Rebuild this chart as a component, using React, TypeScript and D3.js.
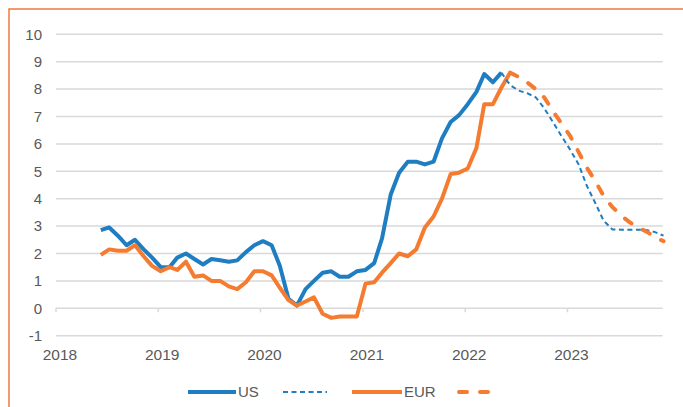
import React from 'react';
import * as d3 from 'd3';

// monthly inflation, % y/y
const usStart = new Date(2018, 5, 10);
const usActual = [
  2.85, 2.95, 2.65, 2.3, 2.5, 2.15, 1.85,
  1.5, 1.5, 1.85, 2.0, 1.8, 1.6, 1.8, 1.75, 1.7, 1.75, 2.05, 2.3,
  2.45, 2.3, 1.55, 0.35, 0.1, 0.7, 1.0, 1.3, 1.35, 1.15, 1.15, 1.35,
  1.4, 1.65, 2.55, 4.15, 4.95, 5.35, 5.35, 5.25, 5.35, 6.2, 6.8, 7.05,
  7.45, 7.9, 8.55, 8.25, 8.6,
];
const usForecastStart = new Date(2022, 4, 10);
const usForecast = [
  8.6, 8.15, 7.95, 7.85, 7.7, 7.3, 6.8, 6.3, 5.8, 5.25, 4.5, 3.85,
  3.2, 2.88, 2.87, 2.87, 2.87, 2.86, 2.78, 2.65,
];

const eurStart = new Date(2018, 5, 10);
const eurActual = [
  1.95, 2.15, 2.1, 2.1, 2.3, 1.9, 1.55,
  1.35, 1.5, 1.4, 1.7, 1.15, 1.2, 1.0, 1.0, 0.8, 0.7, 0.95, 1.35,
  1.35, 1.2, 0.75, 0.3, 0.1, 0.25, 0.4, -0.2, -0.35, -0.3, -0.3, -0.3,
  0.9, 0.95, 1.3, 1.65, 2.0, 1.9, 2.15, 2.95, 3.35, 4.0, 4.9, 4.95,
  5.1, 5.85, 7.45, 7.45, 8.05, 8.6,
];
const eurForecastStart = new Date(2022, 5, 10);
const eurForecast = [
  8.6, 8.45, 8.25, 8.0, 7.7, 7.2, 6.75, 6.3, 5.7, 5.15, 4.65, 4.1,
  3.7, 3.4, 3.15, 2.95, 2.8, 2.6, 2.45,
];

const yTicks = [-1, 0, 1, 2, 3, 4, 5, 6, 7, 8, 9, 10];
const years = [2018, 2019, 2020, 2021, 2022, 2023];

const BLUE = '#1f7dc1';
const ORANGE = '#f47b2f';
const GRID = '#d9d9d9';
const TEXT = '#595959';
const FONT = '"Liberation Sans", Arial, sans-serif';

type Pt = { date: Date; value: number };

const toPoints = (start: Date, values: number[]): Pt[] =>
  values.map((v, i) => ({ date: d3.timeMonth.offset(start, i), value: v }));

const App: React.FC = () => {
  const width = 683;
  const height = 407;
  const plotRight = 662.7;

  const x = d3.scaleTime()
    .domain([new Date(2018, 0, 1), new Date(2023, 11, 1)])
    .range([56, 661]);
  const y = d3.scaleLinear().domain([-1, 10]).range([335.7, 34.3]);

  const line = d3.line<Pt>()
    .x((d) => x(d.date))
    .y((d) => y(d.value));

  const series = [
    { pts: toPoints(usStart, usActual), color: BLUE, w: 4, dash: undefined, cap: 'butt' },
    { pts: toPoints(eurStart, eurActual), color: ORANGE, w: 4, dash: undefined, cap: 'butt' },
    { pts: toPoints(usForecastStart, usForecast), color: BLUE, w: 2, dash: '5,3.5', cap: 'butt' },
    { pts: toPoints(eurForecastStart, eurForecast), color: ORANGE, w: 4, dash: '8,13', cap: 'round' },
  ];

  const legendY = 392;

  return (
    <svg
      width={width}
      height={height}
      style={{ position: 'fixed', left: 0, top: 0, background: '#fff' }}
      fontFamily={FONT}
    >
      <rect x={9} y={9} width={width + 10} height={height + 10} fill="none" stroke="#ec7a3e" strokeWidth={1.5} />

      {/* gridlines */}
      {yTicks.map((t) => (
        <g key={t}>
          <line x1={56} x2={plotRight} y1={y(t)} y2={y(t)} stroke={GRID} strokeWidth={1.5} />
          <text x={42} y={y(t)} dy="0.35em" textAnchor="end" fontSize={15} fill={TEXT}>
            {t}
          </text>
        </g>
      ))}

      {/* x ticks on the zero line */}
      {years.map((yr) => {
        const xx = x(new Date(yr, 0, 1));
        return (
          <g key={yr}>
            <line x1={xx} x2={xx} y1={y(0)} y2={y(0) + 4} stroke={GRID} strokeWidth={1.5} />
            <text x={xx + 4} y={355} dy="0.35em" textAnchor="middle" fontSize={15.5} fill={TEXT}>
              {yr}
            </text>
          </g>
        );
      })}

      {series.map((s, i) => (
        <path
          key={i}
          d={line(s.pts) ?? ''}
          fill="none"
          stroke={s.color}
          strokeWidth={s.w}
          strokeDasharray={s.dash}
          strokeLinecap={s.cap as 'butt' | 'round'}
          strokeLinejoin="round"
        />
      ))}

      {/* legend */}
      <g fontSize={15} fill={TEXT}>
        <line x1={188} x2={236} y1={legendY} y2={legendY} stroke={BLUE} strokeWidth={4} />
        <text x={238} y={legendY} dy="0.35em">US</text>
        <line x1={283} x2={327} y1={legendY} y2={legendY} stroke={BLUE} strokeWidth={2} strokeDasharray="5,3.5" />
        <line x1={352} x2={402} y1={legendY} y2={legendY} stroke={ORANGE} strokeWidth={4} />
        <text x={404} y={legendY} dy="0.35em">EUR</text>
        <line x1={459} x2={497} y1={legendY} y2={legendY} stroke={ORANGE} strokeWidth={4} strokeDasharray="8,13" strokeLinecap="round" />
      </g>
    </svg>
  );
};

export default App;
